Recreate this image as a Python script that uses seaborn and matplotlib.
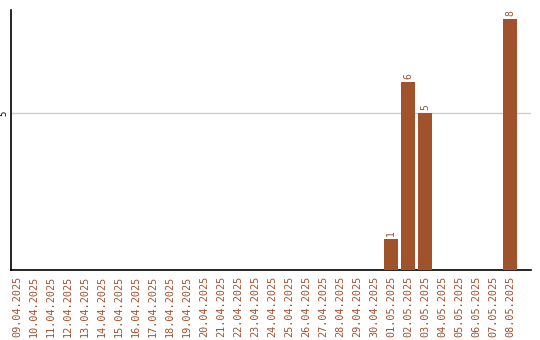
import matplotlib
matplotlib.use("Agg")
import matplotlib.pyplot as plt
import seaborn as sns
import pandas as pd

dates = ["09.04.2025", "10.04.2025", "11.04.2025", "12.04.2025", "13.04.2025",
         "14.04.2025", "15.04.2025", "16.04.2025", "17.04.2025", "18.04.2025",
         "19.04.2025", "20.04.2025", "21.04.2025", "22.04.2025", "23.04.2025",
         "24.04.2025", "25.04.2025", "26.04.2025", "27.04.2025", "28.04.2025",
         "29.04.2025", "30.04.2025", "01.05.2025", "02.05.2025", "03.05.2025",
         "04.05.2025", "05.05.2025", "06.05.2025", "07.05.2025", "08.05.2025"]
counts = [0, 0, 0, 0, 0, 0, 0, 0, 0, 0,
          0, 0, 0, 0, 0, 0, 0, 0, 0, 0,
          0, 0, 1, 6, 5, 0, 0, 0, 0, 8]
y_ticks = [5]

BROWN = "#A0522D"

sns.set_theme(style="white")
plt.rcParams["font.family"] = ["DejaVu Sans Mono", "DejaVu Sans"]

df = pd.DataFrame({"date": dates, "count": counts})

fig = plt.figure(figsize=(5.4, 3.4), dpi=100)
ax = fig.add_axes([11 / 540, 1 - 270 / 340, 520 / 540, 260 / 340])

sns.barplot(data=df, x="date", y="count", color=BROWN, saturation=1,
            width=0.82, linewidth=0, edgecolor="none", ax=ax, zorder=3)

ax.set_xlim(-0.35, 30.24)
ax.set_ylim(0, 8.28)
ax.set_yticks(y_ticks)
ax.set_yticklabels([str(t) for t in y_ticks], rotation=90, va="center",
                   fontsize=6.5, color="black")
ax.grid(axis="y", color="#cccccc", linewidth=1, zorder=0)
ax.set_axisbelow(True)

ax.tick_params(axis="x", length=0, pad=4, labelsize=7.3, labelcolor=BROWN,
               rotation=90)
ax.tick_params(axis="y", length=0, pad=2)
ax.set_xlabel("")
ax.set_ylabel("")

for s in ["top", "right"]:
    ax.spines[s].set_visible(False)
for s in ["left", "bottom"]:
    ax.spines[s].set_color("black")
    ax.spines[s].set_linewidth(1.2)

for i, v in enumerate(counts):
    if v > 0:
        ax.annotate(str(v), (i, v), xytext=(0, 2), textcoords="offset points",
                    rotation=90, ha="center", va="bottom",
                    fontsize=7, color=BROWN)

fig.savefig("out.png", dpi=100)
